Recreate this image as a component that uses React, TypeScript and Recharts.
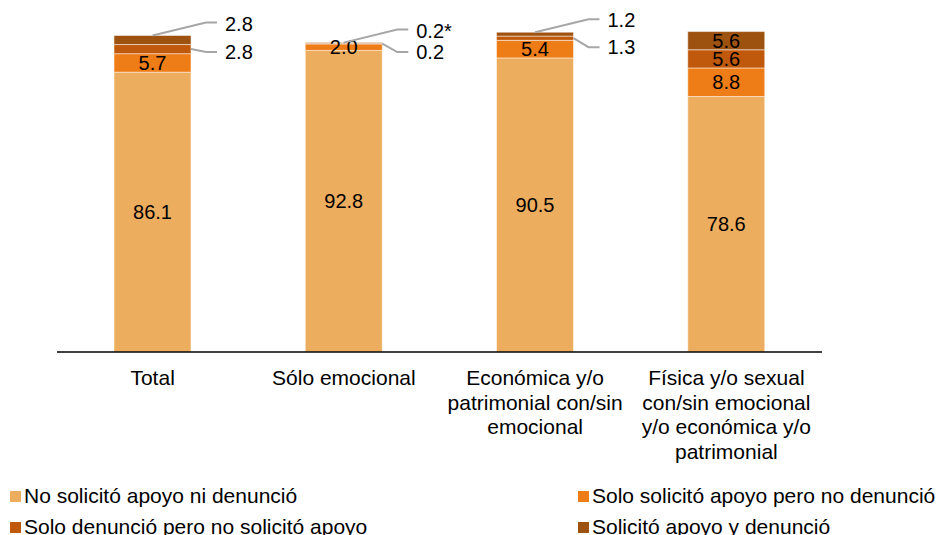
import React from "react";
import { BarChart, Bar, XAxis, YAxis, LabelList } from "recharts";

const categoryLines = [
  ["Total"],
  ["Sólo emocional"],
  ["Económica y/o", "patrimonial con/sin", "emocional"],
  ["Física y/o sexual", "con/sin emocional", "y/o económica y/o", "patrimonial"],
];
const categories = categoryLines.map((l) => l.join(" "));

const noApoyoNiDenuncia = [86.1, 92.8, 90.5, 78.6];
const soloApoyo = [5.7, 2.0, 5.4, 8.8];
const soloDenuncia = [2.8, 0.2, 1.3, 5.6];
const apoyoYDenuncia = [2.8, 0.2, 1.2, 5.6];
const apoyoYDenunciaText = ["2.8", "0.2*", "1.2", "5.6"];

const seriesNames = [
  "No solicitó apoyo ni denunció",
  "Solo solicitó apoyo pero no denunció",
  "Solo denunció pero no solicitó apoyo",
  "Solicitó apoyo y denunció",
];
const COLORS = ["#EDAD5F", "#EF7D17", "#C0590B", "#9E5210"];

const data = categories.map((name, i) => ({
  name,
  a: noApoyoNiDenuncia[i],
  b: soloApoyo[i],
  c: soloDenuncia[i],
  d: apoyoYDenuncia[i],
}));

const FONT = "'Liberation Sans', Arial, sans-serif";
const SMALL = 4; // segments below this get a callout

function InsideLabel(props: any) {
  const { x, y, width, height, value } = props;
  if (value == null) return null;
  return (
    <text
      x={x + width / 2}
      y={y + height / 2}
      dy="0.36em"
      textAnchor="middle"
      fontSize={20}
      fontFamily={FONT}
      fill="#000"
    >
      {Number(value).toFixed(1)}
    </text>
  );
}

function TopCallout(props: any) {
  const { x, y, width, index } = props;
  const v = apoyoYDenuncia[index];
  if (v >= SMALL) return <InsideLabel {...props} value={v} />;
  const cx = x + width / 2;
  const ex = x + width + 15;
  const ey = y - 13;
  return (
    <g>
      <path d={`M${cx},${y} L${ex},${ey} L${ex + 11},${ey}`} stroke="#A6A6A6" strokeWidth={2} fill="none" />
      <text x={ex + 19} y={ey + 1} dy="0.36em" fontSize={20} fontFamily={FONT} fill="#000">
        {apoyoYDenunciaText[index]}
      </text>
    </g>
  );
}

function LowerCallout(props: any) {
  const { x, y, width, height, index } = props;
  const v = soloDenuncia[index];
  if (v >= SMALL) return <InsideLabel {...props} value={v} />;
  const sy = y + height / 2;
  const ex = x + width + 15;
  const ey = Math.max(sy + 2, Math.min(sy + 9, 52));
  return (
    <g>
      <path d={`M${x + width},${sy} L${ex},${ey} L${ex + 11},${ey}`} stroke="#A6A6A6" strokeWidth={2} fill="none" />
      <text x={ex + 19} y={ey} dy="0.36em" fontSize={20} fontFamily={FONT} fill="#000">
        {v.toFixed(1)}
      </text>
    </g>
  );
}

function CategoryTick(props: any) {
  const { x, y, index } = props;
  const lines = categoryLines[index] || [];
  return (
    <text x={x} y={y} textAnchor="middle" fontSize={21} fontFamily={FONT} fill="#000">
      {lines.map((l, i) => (
        <tspan key={i} x={x} dy={i === 0 ? 25 : 24.5}>
          {l}
        </tspan>
      ))}
    </text>
  );
}

function LegendBox() {
  const items = [
    { i: 0, left: 10, top: 484 },
    { i: 1, left: 578, top: 484 },
    { i: 2, left: 10, top: 515 },
    { i: 3, left: 578, top: 515 },
  ];
  return (
    <>
      {items.map(({ i, left, top }) => (
        <div
          key={i}
          style={{
            position: "absolute",
            left,
            top,
            display: "flex",
            alignItems: "center",
            fontFamily: FONT,
            fontSize: 21,
            whiteSpace: "nowrap",
            lineHeight: "24px",
          }}
        >
          <span style={{ width: 11, height: 11, background: COLORS[i], marginRight: 3, display: "inline-block" }} />
          {seriesNames[i]}
        </div>
      ))}
    </>
  );
}

export default function App() {
  return (
    <div style={{ position: "absolute", left: 0, top: 0, width: 941, height: 535, background: "#fff", overflow: "hidden" }}>
      <BarChart
        width={941}
        height={480}
        data={data}
        margin={{ top: 27, right: 119, left: 57, bottom: 18 }}
        barCategoryGap={57}
      >
        <YAxis hide width={0} domain={[0, 100]} />
        <XAxis
          dataKey="name"
          axisLine={{ stroke: "#000", strokeWidth: 1.5 }}
          tickLine={false}
          tick={<CategoryTick />}
          interval={0}
          height={110}
        />
        <Bar dataKey="a" stackId="s" fill={COLORS[0]} stroke="#fff" strokeWidth={0.5} isAnimationActive={false}>
          <LabelList dataKey="a" content={<InsideLabel />} />
        </Bar>
        <Bar dataKey="b" stackId="s" fill={COLORS[1]} stroke="#fff" strokeWidth={0.5} isAnimationActive={false}>
          <LabelList dataKey="b" content={<InsideLabel />} />
        </Bar>
        <Bar dataKey="c" stackId="s" fill={COLORS[2]} stroke="#fff" strokeWidth={0.5} isAnimationActive={false}>
          <LabelList dataKey="c" content={<LowerCallout />} />
        </Bar>
        <Bar dataKey="d" stackId="s" fill={COLORS[3]} stroke="#fff" strokeWidth={0.5} isAnimationActive={false}>
          <LabelList dataKey="d" content={<TopCallout />} />
        </Bar>
      </BarChart>
      <LegendBox />
    </div>
  );
}
